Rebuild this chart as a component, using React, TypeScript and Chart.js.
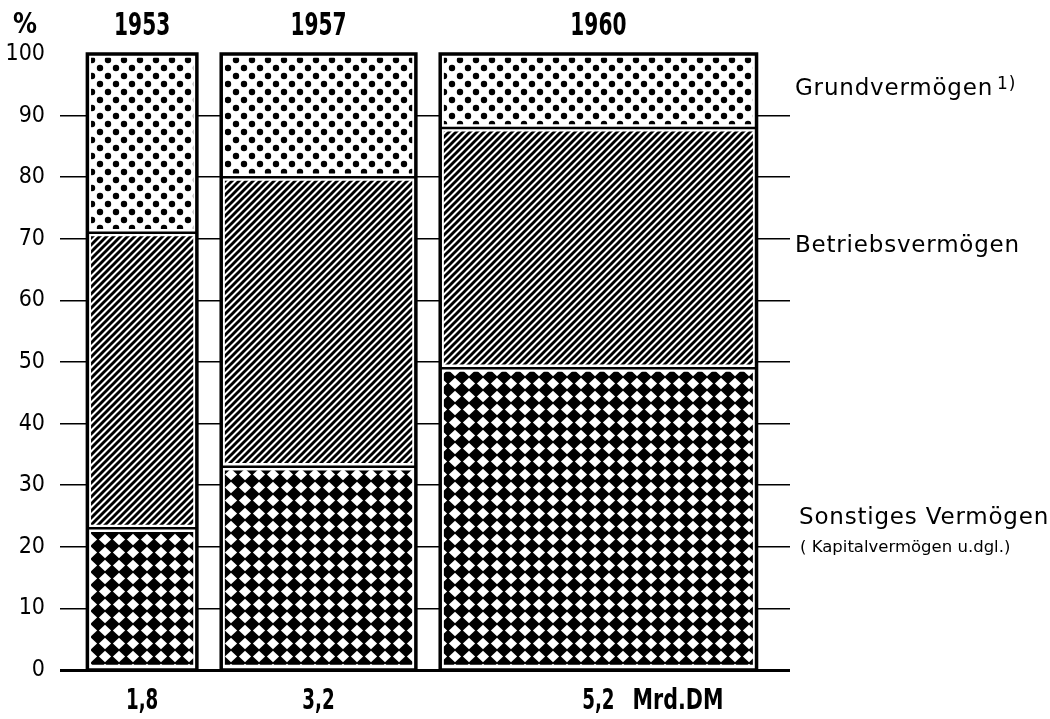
import React, { useEffect, useRef } from 'react';
import { Chart, registerables } from 'chart.js';

Chart.register(...registerables);

// ---------- data ----------
const years = ['1953', '1957', '1960'];
const totals = [1.8, 3.2, 5.2]; // Mrd. DM (bar widths are proportional to these)
const totalLabels = ['1,8', '3,2', '5,2'];
const totalUnit = 'Mrd.DM';
const sonstiges = [23, 33, 49]; // Sonstiges Vermögen (%)
const betriebs = [48, 47, 39]; // Betriebsvermögen (%)
const grund = [29, 20, 12]; // Grundvermögen (%)
const seriesNames = ['Sonstiges Vermögen', 'Betriebsvermögen', 'Grundvermögen'];
const seriesNote = '( Kapitalvermögen u.dgl.)';
const footnoteMark = '1)';
const yUnit = '%';

// ---------- layout (x units = Mrd. DM) ----------
const GAP = 0.4;
const EDGE_L = 0.45;
const EDGE_R = 0.55;

const starts: number[] = [];
{
  let acc = EDGE_L;
  totals.forEach((t) => {
    starts.push(acc);
    acc += t + GAP;
  });
}
const xMax = EDGE_L + totals.reduce((a, b) => a + b, 0) + GAP * (totals.length - 1) + EDGE_R;
const centers = starts.map((s, i) => s + totals[i] / 2);

function makeTile(w: number, h: number, draw: (c: CanvasRenderingContext2D) => void) {
  const cv = document.createElement('canvas');
  cv.width = w;
  cv.height = h;
  const c = cv.getContext('2d')!;
  draw(c);
  return cv;
}

function makePatterns(ctx: CanvasRenderingContext2D) {
  const diamonds = makeTile(14, 13, (c) => {
    c.fillStyle = '#000';
    c.fillRect(0, 0, 14, 13);
    c.fillStyle = '#fff';
    c.beginPath();
    c.moveTo(7, 0.7);
    c.lineTo(13.1, 6.5);
    c.lineTo(7, 12.3);
    c.lineTo(0.9, 6.5);
    c.closePath();
    c.fill();
  });
  const hatch = makeTile(7, 7, (c) => {
    c.fillStyle = '#fff';
    c.fillRect(0, 0, 7, 7);
    c.strokeStyle = '#000';
    c.lineWidth = 2.9;
    c.lineCap = 'square';
    c.beginPath();
    c.moveTo(-1, 8);
    c.lineTo(8, -1);
    c.moveTo(-5, 5);
    c.lineTo(5, -5);
    c.moveTo(2, 12);
    c.lineTo(12, 2);
    c.stroke();
  });
  const dots = makeTile(16, 16, (c) => {
    c.fillStyle = '#fff';
    c.fillRect(0, 0, 16, 16);
    c.fillStyle = '#000';
    c.beginPath();
    c.arc(4, 4, 3.2, 0, Math.PI * 2);
    c.closePath();
    c.moveTo(15.2, 12);
    c.arc(12, 12, 3.2, 0, Math.PI * 2);
    c.fill();
  });
  return [
    ctx.createPattern(diamonds, 'repeat')!,
    ctx.createPattern(hatch, 'repeat')!,
    ctx.createPattern(dots, 'repeat')!,
  ];
}

const CONDENSED = "'Liberation Sans Narrow', 'DejaVu Sans Condensed', 'Liberation Sans', Arial, sans-serif";

function drawScaledText(
  ctx: CanvasRenderingContext2D,
  text: string,
  x: number,
  y: number,
  font: string,
  sx: number,
  align: CanvasTextAlign
) {
  ctx.save();
  ctx.font = font;
  ctx.textAlign = align;
  ctx.textBaseline = 'middle';
  ctx.translate(x, y);
  ctx.scale(sx, 1);
  ctx.fillText(text, 0, 0);
  ctx.restore();
}

const marimekkoPlugin = {
  id: 'marimekko',
  afterDatasetsUpdate(chart: any) {
    const xs = chart.scales.x;
    chart.data.datasets.forEach((_: any, di: number) => {
      const meta = chart.getDatasetMeta(di);
      meta.data.forEach((el: any, i: number) => {
        const l = xs.getPixelForValue(starts[i]);
        const r = xs.getPixelForValue(starts[i] + totals[i]);
        el.x = (l + r) / 2;
        el.width = r - l;
      });
    });
  },
  afterDatasetsDraw(chart: any) {
    const { ctx } = chart;
    const xs = chart.scales.x;
    const ys = chart.scales.y;
    ctx.save();
    ctx.strokeStyle = '#000';
    years.forEach((_, i) => {
      const l = xs.getPixelForValue(starts[i]);
      const r = xs.getPixelForValue(starts[i] + totals[i]);
      const b1 = ys.getPixelForValue(sonstiges[i]);
      const b2 = ys.getPixelForValue(sonstiges[i] + betriebs[i]);
      const top = ys.getPixelForValue(sonstiges[i] + betriebs[i] + grund[i]);
      const bottom = ys.getPixelForValue(0);
      ctx.lineWidth = 2.5;
      ctx.beginPath();
      ctx.moveTo(l, b1);
      ctx.lineTo(r, b1);
      ctx.moveTo(l, b2);
      ctx.lineTo(r, b2);
      ctx.stroke();
      ctx.lineWidth = 3.5;
      ctx.strokeRect(l, top, r - l, bottom - top);
    });
    ctx.restore();
  },
  afterDraw(chart: any) {
    const { ctx } = chart;
    const xs = chart.scales.x;
    const ys = chart.scales.y;
    ctx.save();
    ctx.fillStyle = '#000';
    // % sign
    drawScaledText(ctx, yUnit, 13, 26, `bold 28px ${CONDENSED}`, 0.95, 'left');
    // years on top, totals at bottom
    const SX = 0.7;
    years.forEach((yr, i) => {
      const cx = xs.getPixelForValue(centers[i]);
      drawScaledText(ctx, yr, cx, 27, `bold 32px ${CONDENSED}`, SX, 'center');
      drawScaledText(ctx, totalLabels[i], cx, 701, `bold 29px ${CONDENSED}`, SX, 'center');
      if (i === years.length - 1) {
        ctx.save();
        ctx.font = `bold 29px ${CONDENSED}`;
        const w = ctx.measureText(totalLabels[i]).width * SX;
        ctx.restore();
        drawScaledText(ctx, totalUnit, cx + w / 2 + 18, 701, `bold 29px ${CONDENSED}`, 0.79, 'left');
      }
    });
    // right-hand series labels at the middle of the last bar's segments
    const last = years.length - 1;
    const mids = [
      sonstiges[last] / 2,
      sonstiges[last] + betriebs[last] / 2,
      sonstiges[last] + betriebs[last] + grund[last] / 2,
    ];
    const lx = chart.chartArea.right + 5;
    (ctx as any).letterSpacing = '0.8px';
    ctx.textAlign = 'left';
    ctx.textBaseline = 'alphabetic';
    seriesNames.forEach((name, k) => {
      const y = ys.getPixelForValue(mids[k]) + (k === 0 ? 5 : 4);
      ctx.font = "23px 'DejaVu Sans', sans-serif";
      ctx.fillText(name, lx + (k === 0 ? 4 : 0), y);
      if (k === 2) {
        const w = ctx.measureText(name).width;
        ctx.font = "17px 'DejaVu Sans', sans-serif";
        ctx.fillText(footnoteMark, lx + w + 4, y - 6);
      }
      if (k === 0) {
        (ctx as any).letterSpacing = '0px';
        ctx.font = "16.5px 'DejaVu Sans', sans-serif";
        ctx.fillText(seriesNote, lx + 5, y + 28);
        (ctx as any).letterSpacing = '0.8px';
      }
    });
    ctx.restore();
  },
};

export default function App() {
  const canvasRef = useRef<HTMLCanvasElement | null>(null);

  useEffect(() => {
    const canvas = canvasRef.current!;
    const ctx = canvas.getContext('2d')!;
    const patterns = makePatterns(ctx);
    const seriesValues = [sonstiges, betriebs, grund];

    const chart = new Chart(ctx, {
      type: 'bar',
      data: {
        datasets: seriesValues.map((vals, k) => ({
          label: seriesNames[k],
          data: centers.map((c, i) => ({ x: c, y: vals[i] })),
          backgroundColor: patterns[k],
          borderColor: '#ffffff',
          borderWidth: 4,
          borderSkipped: false,
          barPercentage: 1,
          categoryPercentage: 1,
        })),
      },
      options: {
        animation: false,
        responsive: true,
        maintainAspectRatio: false,
        layout: { padding: { left: 0, right: 260, top: 54, bottom: 49 } },
        plugins: {
          legend: { display: false },
          tooltip: { enabled: false },
        },
        scales: {
          x: {
            type: 'linear',
            min: 0,
            max: xMax,
            offset: false,
            stacked: true,
            display: false,
            grid: { offset: false },
          },
          y: {
            type: 'linear',
            min: 0,
            max: 100,
            stacked: true,
            afterFit: (s: any) => {
              s.width = 60;
            },
            border: { display: false },
            grid: {
              drawTicks: false,
              color: (c: any) => (c.tick && c.tick.value === 100 ? 'rgba(0,0,0,0)' : '#000'),
              lineWidth: (c: any) => (c.tick && c.tick.value === 0 ? 3 : 1.6),
            },
            ticks: {
              stepSize: 10,
              padding: 15,
              color: '#000',
              font: { family: CONDENSED, size: 23 },
            },
          },
        },
      } as any,
      plugins: [marimekkoPlugin],
    });
    return () => chart.destroy();
  }, []);

  return (
    <div style={{ position: 'absolute', left: 0, top: 0, width: 1050, height: 719, background: '#fff' }}>
      <canvas ref={canvasRef} />
    </div>
  );
}
